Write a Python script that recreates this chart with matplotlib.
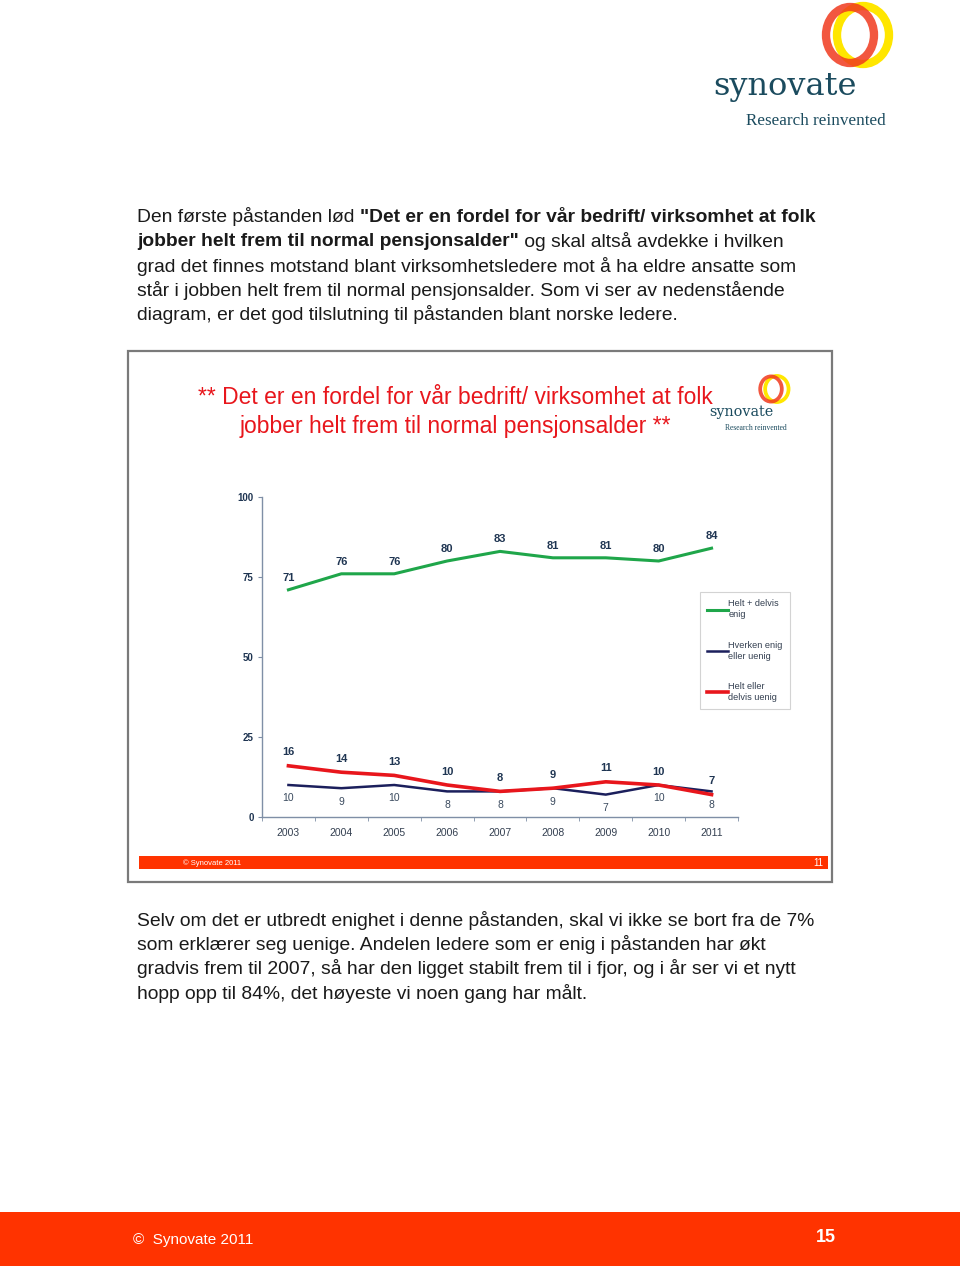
import matplotlib
matplotlib.use("Agg")
import matplotlib.pyplot as plt
from matplotlib.patches import Rectangle, Ellipse

plt.rcParams['font.family'] = ['Liberation Sans', 'DejaVu Sans']

# data
years = ['2003', '2004', '2005', '2006', '2007', '2008', '2009', '2010', '2011']
enig = [71, 76, 76, 80, 83, 81, 81, 80, 84]
hverken = [10, 9, 10, 8, 8, 9, 7, 10, 8]
uenig = [16, 14, 13, 10, 8, 9, 11, 10, 7]
series_names = ['Helt + delvis\nenig', 'Hverken enig\neller uenig', 'Helt eller\ndelvis uenig']
y_ticks = [0, 25, 50, 75, 100]

chart_title = ['** Det er en fordel for vår bedrift/ virksomhet at folk',
               'jobber helt frem til normal pensjonsalder **']
para1 = [
    [('Den første påstanden lød ', 'normal'), ('"Det er en fordel for vår bedrift/ virksomhet at folk', 'bold')],
    [('jobber helt frem til normal pensjonsalder"', 'bold'), (' og skal altså avdekke i hvilken', 'normal')],
    [('grad det finnes motstand blant virksomhetsledere mot å ha eldre ansatte som', 'normal')],
    [('står i jobben helt frem til normal pensjonsalder. Som vi ser av nedenstående', 'normal')],
    [('diagram, er det god tilslutning til påstanden blant norske ledere.', 'normal')],
]
para2 = [
    'Selv om det er utbredt enighet i denne påstanden, skal vi ikke se bort fra de 7%',
    'som erklærer seg uenige. Andelen ledere som er enig i påstanden har økt',
    'gradvis frem til 2007, så har den ligget stabilt frem til i fjor, og i år ser vi et nytt',
    'hopp opp til 84%, det høyeste vi noen gang har målt.',
]

GREEN = '#1fa64a'
NAVY = '#1b1f5c'
RED = '#e8161c'
LABEL = '#1f3552'
ORANGE = '#ff3300'
TEAL = '#1b4b5e'
TEXT = '#1a1a1a'

W, H = 960, 1266
fig = plt.figure(figsize=(W / 100, H / 100), dpi=100)
bg = fig.add_axes([0, 0, 1, 1], zorder=0)
bg.set_xlim(0, W)
bg.set_ylim(H, 0)
bg.axis('off')


def logo(ax, x, y, s):
    # rings centred near (x, y), "synovate" below-left
    ax.add_patch(Ellipse((x + 13 * s, y), 52 * s, 58 * s, fill=False, lw=6 * s, ec='#ffe600', zorder=2))
    ax.add_patch(Ellipse((x, y), 48 * s, 56 * s, fill=False, lw=6 * s, ec='#f03a1e', alpha=0.85, zorder=3))
    ax.text(x - 137 * s, y + 52 * s, 'synovate', fontsize=23 * s, color=TEAL,
            family='DejaVu Serif', va='center', ha='left')
    ax.text(x + 36 * s, y + 86 * s, 'Research reinvented', fontsize=12.3 * s, color=TEAL,
            family='Liberation Serif', va='center', ha='right')


logo(bg, 850, 35, 1.0)

renderer = fig.canvas.get_renderer()
inv = bg.transData.inverted()

# first paragraph with bold parts
y = 217
for line in para1:
    x = 137
    for txt, wgt in line:
        t = bg.text(x, y, txt, fontsize=13.9, fontweight=wgt, color=TEXT, va='center', ha='left')
        bb = t.get_window_extent(renderer)
        x = inv.transform((bb.x1, bb.y0))[0]
    y += 24.5

y = 920
for line in para2:
    bg.text(137, y, line, fontsize=13.9, color=TEXT, va='center', ha='left')
    y += 24.5

# chart frame
bg.add_patch(Rectangle((128, 351), 704, 531, fill=True, fc='white', ec='#7a7a7a', lw=1.6, zorder=1))
bg.add_patch(Rectangle((139, 856), 689, 13, fc=ORANGE, ec='none', zorder=2))
bg.text(183, 863, '© Synovate 2011', fontsize=5.5, color='white', va='center', ha='left', zorder=3)
bg.text(823, 863, '11', fontsize=7, color='white', va='center', ha='right', zorder=3)
for i, line in enumerate(chart_title):
    bg.text(455, 398 + 28 * i, line, fontsize=16.5, color=RED, va='center', ha='center', zorder=3)
logo(bg, 771, 389, 0.45)

# page footer
bg.add_patch(Rectangle((0, 1212), W, 54, fc=ORANGE, ec='none', zorder=1))
bg.text(133, 1240, '©  Synovate 2011', fontsize=11, color='white', va='center', ha='left', zorder=2)
bg.text(836, 1238, '15', fontsize=13, fontweight='bold', color='white', va='center', ha='right', zorder=2)

# line chart
ax = fig.add_axes([262 / W, 1 - 817 / H, 476 / W, 320 / H], zorder=2)
ax.patch.set_alpha(0)
xs = list(range(len(years)))
l1, = ax.plot(xs, enig, color=GREEN, lw=2.2)
l2, = ax.plot(xs, hverken, color=NAVY, lw=1.8)
l3, = ax.plot(xs, uenig, color=RED, lw=2.6)

for i in xs:
    ax.annotate(str(enig[i]), (i, enig[i]), xytext=(0, 5), textcoords='offset points',
                ha='center', va='bottom', fontsize=8, fontweight='bold', color=LABEL)
    ax.annotate(str(uenig[i]), (i, uenig[i]), xytext=(0, 6), textcoords='offset points',
                ha='center', va='bottom', fontsize=8, fontweight='bold', color=LABEL)
    ax.annotate(str(hverken[i]), (i, hverken[i]), xytext=(0, -6), textcoords='offset points',
                ha='center', va='top', fontsize=7.5, color='#3a4a5e')

ax.set_xlim(-0.5, len(years) - 0.5)
ax.set_ylim(0, 100)
ax.set_yticks(y_ticks)
ax.set_yticklabels([str(v) for v in y_ticks], fontsize=7, fontweight='bold', color=LABEL)
ax.set_xticks(xs)
ax.set_xticklabels(years, fontsize=7.5, color='#333f50')
ax.set_xticks([i - 0.5 for i in range(len(years) + 1)], minor=True)
ax.tick_params(axis='x', which='major', length=0, pad=8)
ax.tick_params(axis='x', which='minor', length=3, color='#7f8fa6', direction='out')
ax.tick_params(axis='y', length=3, color='#7f8fa6', pad=3)
for s in ['top', 'right']:
    ax.spines[s].set_visible(False)
for s in ['left', 'bottom']:
    ax.spines[s].set_color('#7f8fa6')
    ax.spines[s].set_linewidth(1)

leg = ax.legend([l1, l2, l3], series_names, loc='upper left', bbox_to_anchor=(438 / 476, 225 / 320),
                fontsize=6.6, frameon=True, fancybox=False, edgecolor='#c8c8c8',
                handlelength=2.3, handletextpad=0.0, labelspacing=2.3, borderpad=0.8,
                borderaxespad=0, labelcolor='#333f50')
for t in leg.get_texts():
    t.set_linespacing(1.3)
leg.get_frame().set_linewidth(0.8)

fig.savefig('out.png', dpi=100)
